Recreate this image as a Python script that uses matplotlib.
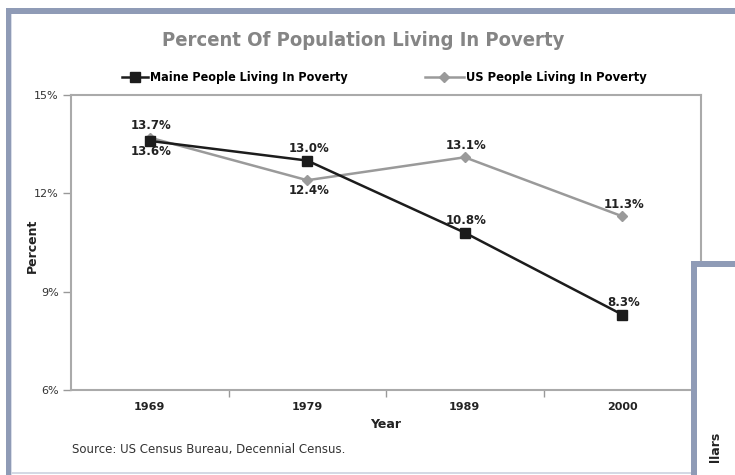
import matplotlib.pyplot as plt
from matplotlib.patches import Rectangle

years = ['1969', '1979', '1989', '2000']
maine_pct = [13.6, 13.0, 10.8, 8.3]
us_pct = [13.7, 12.4, 13.1, 11.3]
# which side of the marker each value label sits on
maine_label_side = ['below', 'above', 'above', 'above']
us_label_side = ['above', 'below', 'above', 'above']
y_ticks = [6, 9, 12, 15]

W, H = 735, 475
FRAME = '#8f9bb6'
NARROW = dict(family='DejaVu Sans', stretch='condensed', weight='bold')

fig = plt.figure(figsize=(W / 100, H / 100), dpi=100)


def px(x0, y0, x1, y1):
    # pixel box (top-left origin) -> figure fraction rect
    return (x0 / W, 1 - y1 / H, (x1 - x0) / W, (y1 - y0) / H)


def frame_rect(x0, y0, x1, y1, color):
    l, b, w, h = px(x0, y0, x1, y1)
    fig.add_artist(Rectangle((l, b), w, h, transform=fig.transFigure,
                             facecolor=color, edgecolor='none', zorder=5))


ax = fig.add_axes(px(71, 95, 701, 390))

x = list(range(len(years)))
ax.plot(x, maine_pct, color='#1c1c1c', lw=1.8, marker='s', ms=6.5,
        label='Maine People Living In Poverty', zorder=3)
ax.plot(x, us_pct, color='#9a9a9a', lw=1.8, marker='D', ms=5.5,
        label='US People Living In Poverty', zorder=2)

for vals, sides in [(maine_pct, maine_label_side), (us_pct, us_label_side)]:
    for i, (v, side) in enumerate(zip(vals, sides)):
        dy = 8.5 if side == 'above' else -7.5
        ax.annotate(f'{v:.1f}%', (i, v), xytext=(1, dy), textcoords='offset points',
                    ha='center', va='center', fontsize=8.5, fontweight='bold',
                    color='#222222')

ax.set_xlim(-0.5, len(years) - 0.5)
ax.set_ylim(6, 15)
ax.set_yticks(y_ticks)
ax.set_yticklabels([f'{t}%' for t in y_ticks])
ax.set_xticks(x)
ax.set_xticklabels(years, fontweight='bold')
ax.set_xticks([i + 0.5 for i in x[:-1]], minor=True)
ax.tick_params(axis='x', which='major', length=0, pad=9, labelsize=8, labelcolor='#222222')
ax.tick_params(axis='x', which='minor', length=5, width=1, color='#999999')
ax.tick_params(axis='y', length=6, width=1, color='#999999', labelsize=8,
               labelcolor='#333333', pad=3)
for s in ax.spines.values():
    s.set_color('#aaaaaa')
    s.set_linewidth(1.5)

ax.set_xlabel('Year', fontsize=9, fontweight='bold', color='#222222', labelpad=4)
fig.text(32 / W, 1 - 246 / H, 'Percent', rotation=90, ha='center', va='center',
         fontsize=9, fontweight='bold', color='#222222')

# two separate legend entries spread across the top
h_maine, h_us = ax.get_lines()[:2]
leg1 = ax.legend(handles=[h_maine], loc='center left', frameon=False,
                 bbox_to_anchor=(122 / W, 1 - 78 / H), bbox_transform=fig.transFigure,
                 borderpad=0, borderaxespad=0, handlelength=2.1, handletextpad=0.15,
                 prop=dict(NARROW, size=9))
ax.add_artist(leg1)
ax.legend(handles=[h_us], loc='center left', frameon=False,
          bbox_to_anchor=(425 / W, 1 - 78 / H), bbox_transform=fig.transFigure,
          borderpad=0, borderaxespad=0, handlelength=3.0, handletextpad=0.15,
          prop=dict(NARROW, size=9.3))

fig.text(363 / W, 1 - 40 / H, 'Percent Of Population Living In Poverty',
         ha='center', va='center', fontsize=14.5, color='#858585', **NARROW)

fig.text(72 / W, 1 - 450 / H, 'Source: US Census Bureau, Decennial Census.',
         ha='left', va='center', fontsize=8.5, color='#333333')

# outer panel border
frame_rect(6, 8, W + 5, 14, FRAME)
frame_rect(6, 8, 11, H + 5, FRAME)
frame_rect(11, 14, 12, H + 5, '#d8dde8')
frame_rect(11, 472, W, 474, '#d4d9e4')

# neighbouring panel overlapping the lower right corner
frame_rect(691, 261, W + 5, H + 5, FRAME)
frame_rect(697, 267, W + 5, H + 5, 'white')
fig.text(716 / W, 1 - 447 / H, 'llars', rotation=90, ha='center', va='center',
         fontsize=9, fontweight='bold', color='#222222', zorder=6)

fig.savefig('out.png', dpi=100)
